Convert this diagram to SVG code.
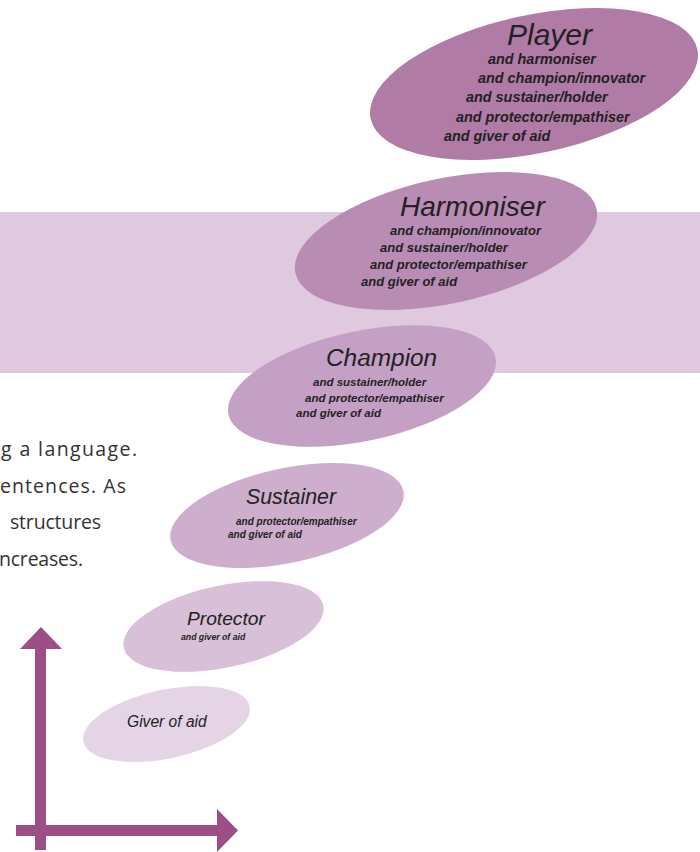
<svg xmlns="http://www.w3.org/2000/svg" width="700" height="852" viewBox="0 0 700 852">
<style>
.t{font-family:"Liberation Sans",Arial,sans-serif;font-style:italic;fill:#222}
.s{font-family:"Liberation Sans",Arial,sans-serif;font-style:italic;font-weight:bold;fill:#222}
.p{font-family:"Open Sans","Liberation Sans",sans-serif;font-size:19.5px;fill:#333}
.ax{fill:#9b4f86}
</style>
<rect id="band" x="0" y="212" width="700" height="161" fill="#dfc9de"/>
<g id="paragraph">
<text class="p" x="1" y="456" textLength="136" lengthAdjust="spacing">g a language.</text>
<text class="p" x="0" y="493" textLength="126" lengthAdjust="spacing">entences. As</text>
<text class="p" x="10" y="529" textLength="91" lengthAdjust="spacing">structures</text>
<text class="p" x="-1" y="566" textLength="84" lengthAdjust="spacing">ncreases.</text>
</g>
<g id="player">
<ellipse cx="534" cy="84" rx="167" ry="69" transform="rotate(-12 534 84)" fill="#b07ba5"/>
<text class="t" x="507" y="45" font-size="30">Player</text>
<text class="s" font-size="14.4"><tspan x="488" y="64">and harmoniser</tspan><tspan x="478" y="83">and champion/innovator</tspan><tspan x="466" y="102">and sustainer/holder</tspan><tspan x="456" y="122">and protector/empathiser</tspan><tspan x="444" y="141">and giver of aid</tspan></text>
</g>
<g id="harmoniser">
<ellipse cx="446" cy="241" rx="154" ry="62.5" transform="rotate(-12 446 241)" fill="#b98cb4"/>
<text class="t" x="400" y="216" font-size="28">Harmoniser</text>
<text class="s" font-size="13"><tspan x="390" y="235">and champion/innovator</tspan><tspan x="380" y="252">and sustainer/holder</tspan><tspan x="370" y="269">and protector/empathiser</tspan><tspan x="361" y="286">and giver of aid</tspan></text>
</g>
<g id="champion">
<ellipse cx="362" cy="386" rx="136.5" ry="55" transform="rotate(-12 362 386)" fill="#c4a0c4"/>
<text class="t" x="326" y="366" font-size="24.4">Champion</text>
<text class="s" font-size="11.5"><tspan x="313" y="386">and sustainer/holder</tspan><tspan x="305" y="402">and protector/empathiser</tspan><tspan x="296" y="417">and giver of aid</tspan></text>
</g>
<g id="sustainer">
<ellipse cx="287" cy="515.5" rx="119" ry="47.3" transform="rotate(-12 287 515.5)" fill="#cdaecd"/>
<text class="t" x="246" y="504" font-size="21.3">Sustainer</text>
<text class="s" font-size="10"><tspan x="236" y="525">and protector/empathiser</tspan><tspan x="228" y="538">and giver of aid</tspan></text>
</g>
<g id="protector">
<ellipse cx="223.5" cy="626.5" rx="102" ry="41" transform="rotate(-12 223.5 626.5)" fill="#d8c0d8"/>
<text class="t" x="187" y="625" font-size="19.2">Protector</text>
<text class="s" x="181" y="640" font-size="8.7">and giver of aid</text>
</g>
<g id="giver">
<ellipse cx="166.5" cy="724" rx="85" ry="34.4" transform="rotate(-12 166.5 724)" fill="#e5d4e5"/>
<text class="t" x="127" y="727" font-size="15.6">Giver of aid</text>
</g>
<g id="connectors">
<rect class="ax" x="35" y="646" width="11" height="204"/>
<polygon class="ax" points="20,649 62,649 41,627"/>
<rect class="ax" x="16" y="825" width="203" height="11"/>
<polygon class="ax" points="217,809 217,852 238,830.5"/>
</g>
</svg>
